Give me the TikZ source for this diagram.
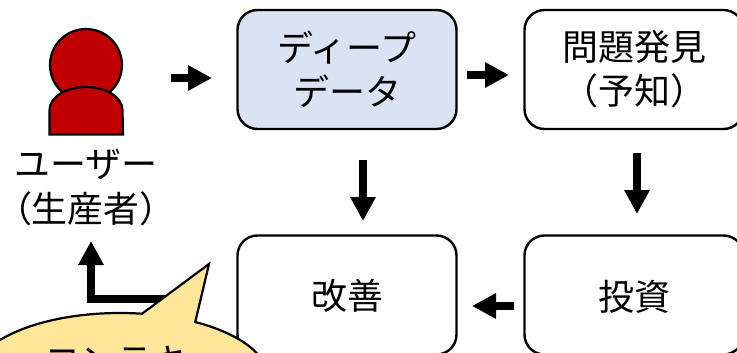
\documentclass[tikz,border=0pt]{standalone}
\usepackage{fontspec}
\setmainfont{Noto Sans CJK JP}
\usetikzlibrary{arrows.meta,shapes.geometric}
\definecolor{boxblue}{HTML}{DAE3F3}
\definecolor{userred}{HTML}{C00000}
\definecolor{bubbleyellow}{HTML}{FFE699}
\tikzset{
  stepbox/.style={draw=black,line width=2.4pt,rounded corners=20pt,minimum width=219pt,minimum height=119pt,align=center,font=\fontsize{36}{44}\selectfont,inner sep=0pt},
  flow/.style={line width=8pt,-{Triangle[length=24pt,width=24pt]},shorten >=0pt},
  txt/.style={align=center,font=\fontsize{36}{45}\selectfont,inner sep=0pt},
  personline/.style={draw=black,line width=2.2pt,fill=userred},
}
\begin{document}
\begin{tikzpicture}[x=1pt,y=-1pt]
\useasboundingbox (0,0) rectangle (737,353);
\clip (0,0) rectangle (737,353);
% boxes
\node[stepbox,fill=boxblue] (deep) at (347,69.5) {ディープ\\データ};
\node[stepbox] (problem) at (634,69.5) {問題発見\\（予知）};
\node[stepbox] (improve) at (347,295) {};
\node[stepbox] (invest) at (634,295) {};
\node[txt] (improvet) at (347,296) {改善};
\node[txt] (investt) at (634,297) {投資};
% user
\node[circle,personline,minimum size=72pt,inner sep=0pt] (head) at (86,65) {};
\draw[personline] (49.5,134.5) -- (49.5,110) arc[start angle=180,end angle=0,x radius=36.5pt,y radius=23pt] -- (123,134.5) -- cycle;
\node[txt] (user) at (86,187.5) {ユーザー\\（生産者）};
% connector ends
\coordinate (a1) at (171,78); \coordinate (a2) at (212,78);
\coordinate (b1) at (467,75); \coordinate (b2) at (509,75);
\coordinate (c1) at (637,153); \coordinate (c2) at (637,214);
\coordinate (d1) at (363,160); \coordinate (d2) at (363,221);
\coordinate (e1) at (514,306); \coordinate (e2) at (472,306);
\coordinate (f1) at (175,299); \coordinate (f2) at (91,299); \coordinate (f3) at (91,241);
\draw[flow] (a1) -- (a2);
\draw[flow] (b1) -- (b2);
\draw[flow] (c1) -- (c2);
\draw[flow] (d1) -- (d2);
\draw[flow] (e1) -- (e2);
\draw[flow] (f1) -- (f2) -- (f3);
% callout
\node[ellipse,draw=black,line width=2.2pt,fill=bubbleyellow,minimum width=296pt,minimum height=130pt,inner sep=0pt] (bubble) at (120,378) {};
\coordinate (t1) at (141,314.5); \coordinate (t2) at (209,264); \coordinate (t3) at (195,323);
\fill[bubbleyellow] (t1) -- (t2) -- (t3) -- (170,340) -- cycle;
\draw[line width=2.2pt,line join=miter] (t1) -- (t2) -- (t3);
\node[txt] (bubbletext) at (117,361) {コンテキ};
\end{tikzpicture}
\end{document}
